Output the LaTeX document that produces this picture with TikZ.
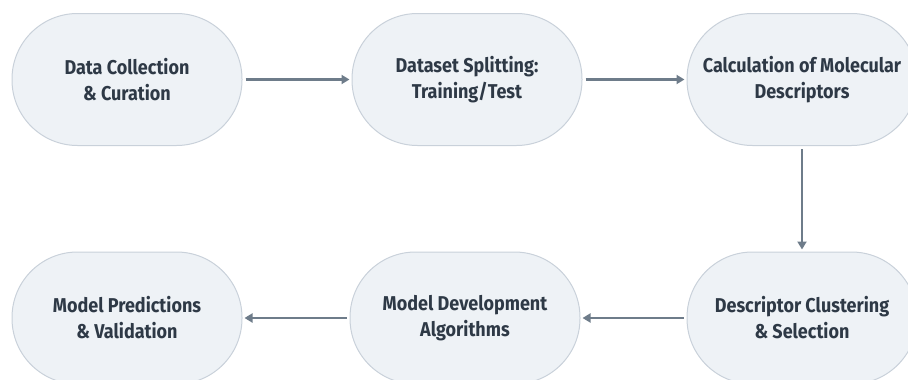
\documentclass[tikz,border=0pt]{standalone}
\usepackage{fontspec}
\setmainfont{Fira Sans}[BoldFont={Fira Sans Bold},FakeStretch=0.9]
\definecolor{boxfill}{HTML}{EEF2F6}
\definecolor{boxline}{HTML}{C9D1DA}
\definecolor{txt}{HTML}{2E3946}
\definecolor{arr}{HTML}{6E7C8A}
\usetikzlibrary{arrows.meta}
\tikzset{
  stage/.style={draw=boxline, line width=1pt, fill=boxfill, rounded corners=65.5pt,
    minimum width=230pt, minimum height=132pt, align=center, inner sep=0pt,
    font=\bfseries\fontsize{20}{26}\selectfont, text=txt},
  flow/.style={draw=arr, line width=2.4pt, -{Triangle[length=8pt,width=9pt]}, shorten >=2pt, shorten <=3pt}
}
\begin{document}
\begin{tikzpicture}[x=1pt,y=-1pt]
\useasboundingbox (0,0) rectangle (908,380);
\clip (0,0) rectangle (908,380);
\node[stage] (n1) at (127,79.5) {Data Collection\\\& Curation};
\node[stage] (n2) at (467,79.5) {Dataset Splitting:\\Training/Test};
\node[stage] (n3) at (802,79.5) {Calculation of Molecular\\Descriptors};
\node[stage] (n4) at (802,318) {Descriptor Clustering\\\& Selection};
\node[stage] (n5) at (465,318) {Model Development\\Algorithms};
\node[stage] (n6) at (127,318) {Model Predictions\\\& Validation};
\draw[flow] (n1) -- (n2);
\draw[flow] (n2) -- (n3);
\draw[flow] (n3) -- (n4);
\draw[flow] (n4) -- (n5);
\draw[flow] (n5) -- (n6);
\end{tikzpicture}
\end{document}
